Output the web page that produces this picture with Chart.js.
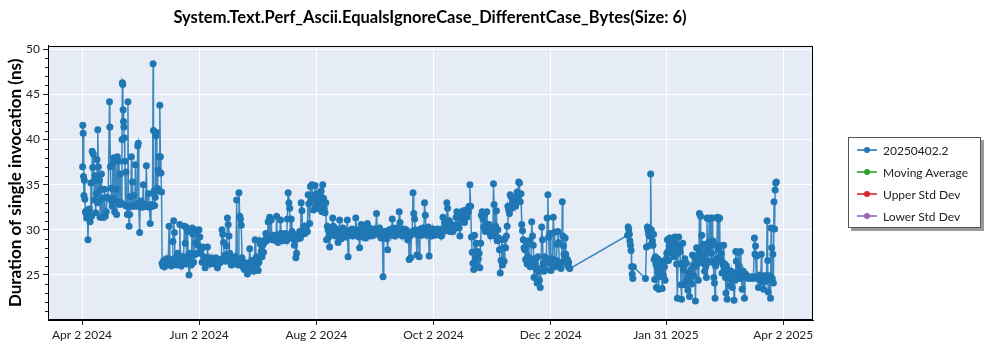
<!DOCTYPE html>
<html>
<head>
<meta charset="utf-8">
<script src="https://cdn.jsdelivr.net/npm/chart.js@4.4.1/dist/chart.umd.min.js"></script>
<style>
    body { margin: 0; background: #fff; font-family: Lato, sans-serif; }
    #wrap { position: relative; width: 1000px; height: 350px; }
    #chart { position: absolute; left: 0; top: 0; }
    #legend {
        position: absolute; left: 848px; top: 137px; width: 133px; height: 91px;
        box-sizing: border-box; border: 1px solid #555; background: #fff;
        box-shadow: 3px 3px 0 #9a9a9a; padding-top: 1px;
    }
    .item { height: 22px; display: flex; align-items: center; font-size: 12px; color: #222; }
    .swatch { position: relative; width: 20px; height: 10px; margin-left: 8px; margin-right: 6px; }
    .swatch .ln { position: absolute; left: 0; right: 0; top: 4px; height: 1.5px; opacity: 0.8; }
    .swatch .dot { position: absolute; left: 7px; top: 2px; width: 6px; height: 6px; border-radius: 50%; }
</style>
</head>
<body>
<div id="wrap">
    <canvas id="chart" width="860" height="350"></canvas>
    <div id="legend"></div>
</div>
<script>
// days since Apr 2 2024
const runDays = [
    // Apr - mid May 2024
    0.3, 0.4, 0.6, 0.8, 1.0, 1.2, 1.5, 1.8, 2.1, 2.4,
    2.8, 3.1, 3.4, 3.8, 4.2, 4.6, 5.0, 5.3, 5.6, 5.9,
    6.2, 6.5, 6.8, 7.1, 7.4, 7.8, 8.1, 8.2, 8.5, 8.8,
    9.1, 9.4, 9.8, 10.1, 10.5, 10.9, 11.3, 11.7, 12.1, 12.6,
    13.1, 13.6,
    14.3, 14.5, 14.8, 15.1, 15.4, 15.7, 16.0, 16.3, 16.6, 17.0,
    17.3, 17.7, 18.0, 18.4, 18.8, 19.2, 19.6, 20.0, 20.4, 20.8,
    21.0, 21.2, 21.4, 21.6, 21.8, 22.0, 22.3, 22.6, 22.9, 23.2,
    23.6, 23.9, 24.2, 24.5, 24.8, 25.1, 25.4, 25.7, 26.0, 26.3,
    26.6, 27.0, 27.4, 27.8, 28.2, 28.6, 29.0, 29.3, 29.6, 30.0,
    30.3, 30.7, 31.1, 31.5, 31.9, 32.3, 32.7, 33.1, 33.5, 33.9,
    34.3, 34.7, 35.1, 35.5, 35.9, 36.3, 36.7, 37.0, 37.2, 37.5,
    37.8, 38.1, 38.4, 38.7, 39.0, 39.3, 39.6, 39.9, 40.2, 40.5,
    40.8, 41.1, 41.4, 41.7,
    // mid May - Jun
    42.1, 42.5, 42.9, 43.3, 43.7, 44.1, 44.5, 44.9, 45.3, 45.7,
    46.1, 46.5, 46.9, 47.3, 47.7, 48.1, 48.5, 48.9, 49.3, 49.7,
    50.1, 50.5, 50.9, 51.3, 51.7, 52.1, 52.5, 52.9, 53.3, 53.7,
    54.1, 54.5, 54.9, 55.3, 55.7, 56.1, 56.5, 56.9, 57.3, 57.7,
    58.1, 58.5, 58.9, 59.3, 59.7, 60.1, 60.5, 60.9, 61.3, 61.7,
    // Jun - Jul
    62.1, 62.5, 62.9, 63.3, 63.7, 64.1, 64.5, 64.9, 65.3, 65.7,
    66.1, 66.5, 66.9, 67.3, 67.7, 68.1, 68.5, 68.9, 69.3, 69.7,
    70.1, 70.5, 70.9, 71.3, 71.7, 72.1, 72.5, 72.9, 73.3, 73.7,
    74.1, 74.5, 74.9, 75.3, 75.7, 76.1, 76.5, 76.9, 77.3, 77.7,
    78.1, 78.5, 78.9, 79.3, 79.7, 80.1, 80.5, 80.9, 81.3, 81.7,
    82.1, 82.5, 82.9, 83.3, 83.7, 84.1, 84.5, 84.9, 85.3, 85.7,
    86.1, 86.5, 86.9, 87.3, 87.7, 88.1, 88.5, 88.9, 89.3, 89.7,
    90.1, 90.5, 90.9, 91.3, 91.7, 92.1, 92.5, 92.9, 93.3, 93.7,
    // Jul - Aug
    94.1, 94.5, 94.9, 95.3, 95.7, 96.1, 96.5, 96.9, 97.3, 97.7,
    98.1, 98.5, 98.9, 99.3, 99.7, 100.1, 100.5, 100.9, 101.3, 101.7,
    102.1, 102.5, 102.9, 103.3, 103.7, 104.1, 104.5, 104.9, 105.3, 105.7,
    106.1, 106.5, 106.9, 107.3, 107.7, 108.1, 108.5, 108.9, 109.3, 109.7,
    110.1, 110.5, 110.9, 111.3, 111.7, 112.1, 112.5, 112.9, 113.3, 113.7,
    114.1, 114.5, 114.9, 115.3, 115.7, 116.1, 116.5, 116.9, 117.3, 117.7,
    118.1, 118.5, 118.9, 119.3, 119.7, 120.1, 120.5, 120.9, 121.3, 121.7,
    122.1, 122.5, 122.9, 123.3, 123.7,
    // Aug - Oct
    124.1, 124.5, 124.9, 125.3, 125.7, 126.1, 126.5, 126.9, 127.3, 127.7,
    128.1, 128.5, 128.9, 129.3, 129.7, 130.1, 130.5, 130.9, 131.3, 131.7,
    132.1, 132.5, 132.9, 133.3, 133.7, 134.1, 134.5, 134.9, 135.3, 135.7,
    136.1, 136.5, 136.9, 137.3, 137.7, 138.1, 138.5, 138.9, 139.3, 139.7,
    140.1, 140.5, 140.9, 141.3, 141.7, 142.1, 142.5, 142.9, 143.3, 143.7,
    144.1, 144.5, 144.9, 145.3, 145.7, 146.1, 146.5, 146.9, 147.3, 147.7,
    148.1, 148.5, 148.9, 149.3, 149.7, 150.1, 150.5, 150.9, 151.3, 151.7,
    152.1, 152.5, 152.9, 153.3, 153.7, 154.1, 154.5, 154.9, 155.3, 155.7,
    156.1, 156.4, 156.7, 157.1, 157.5, 157.9, 158.3, 158.7, 159.1, 159.5,
    159.9, 160.3, 160.7, 161.1, 161.5, 161.9, 162.3, 162.7, 163.1, 163.5,
    163.9, 164.3, 164.7, 165.1, 165.5, 165.9, 166.3, 166.7, 167.1, 167.5,
    167.9, 168.3, 168.7, 169.1, 169.5, 169.9, 170.3, 170.7, 171.1, 171.5,
    171.9, 172.3, 172.7, 173.1, 173.5, 173.9, 174.3, 174.7, 175.1, 175.5,
    175.9, 176.3, 176.7, 177.1, 177.5, 177.9, 178.3, 178.7, 179.1, 179.5,
    179.9, 180.3, 180.7, 181.1, 181.5, 181.9, 182.3, 182.7, 183.1, 183.5,
    183.9, 184.3, 184.7, 185.1, 185.5, 185.9,
    // Oct - Dec
    186.3, 186.7, 187.1, 187.5, 187.9, 188.3, 188.7, 189.1, 189.5, 189.9,
    190.3, 190.7, 191.1, 191.5, 191.9, 192.3, 192.7, 193.1, 193.5, 193.9,
    194.3, 194.7, 195.1, 195.5, 195.9, 196.3, 196.7, 197.1, 197.5, 197.9,
    198.3, 198.7, 199.1, 199.5, 199.9, 200.3, 200.7, 201.1, 201.5, 201.9,
    202.3, 202.7, 203.1, 203.5, 203.9, 204.3, 204.7, 205.1, 205.5, 205.9,
    206.3, 206.7, 207.1, 207.5, 207.9, 208.3, 208.7, 209.1, 209.5, 209.9,
    210.3, 210.7, 211.1, 211.5, 211.9, 212.3, 212.7, 213.1, 213.5, 213.9,
    214.2, 214.5, 214.9, 215.3, 215.7, 216.1, 216.5, 216.9, 217.3, 217.7,
    218.1, 218.5, 218.9, 219.3, 219.7, 220.1, 220.5, 220.9, 221.3, 221.7,
    222.1, 222.5, 222.9, 223.3, 223.7, 224.1, 224.5, 224.9, 225.3, 225.7,
    226.1, 226.5, 226.9, 227.3, 227.7, 228.1, 228.5, 228.9, 229.3, 229.7,
    230.1, 230.5, 230.9, 231.3, 231.7, 232.1, 232.5, 232.9, 233.3, 233.7,
    234.1, 234.5, 234.9, 235.3, 235.7, 236.1, 236.5, 236.9, 237.3, 237.7,
    238.1, 238.5, 238.9, 239.3, 239.7, 240.1, 240.5, 240.9, 241.3, 241.7,
    242.1, 242.5, 242.9, 243.3, 243.7, 244.1, 244.5, 244.9, 245.3, 245.7,
    246.1, 246.5, 246.9, 247.3, 247.7, 248.1, 248.5, 248.9, 249.3, 249.7,
    250.0, 250.3, 250.6, 250.9, 251.2, 251.5, 251.8, 252.1, 252.4, 252.7,
    253.0, 253.3, 253.6, 253.9,
    // Jan 2025
    284.0, 284.3, 284.6, 284.9, 285.2, 285.5, 285.8, 286.1, 286.4, 286.7,
    287.0, 293.3, 293.8, 294.3, 294.6, 294.9, 295.2, 295.5, 295.8, 296.0,
    296.3, 296.6, 296.9, 297.2, 297.5, 297.8, 298.1, 298.4, 298.7, 299.0,
    299.3, 299.6, 299.9, 300.2, 300.5, 300.8, 301.1, 301.4, 301.7, 302.0,
    302.3, 302.6, 302.9, 303.2, 303.5, 303.8, 304.1, 304.4, 304.7, 305.0,
    305.3, 305.6, 305.9, 306.2, 306.5, 306.8, 307.1, 307.4, 307.7, 308.0,
    308.3, 308.6, 308.9, 309.2, 309.5, 309.9,
    // Feb - Apr 2025
    310.3, 310.6, 310.9, 311.2, 311.5, 311.8, 312.1, 312.4, 312.7, 313.0,
    313.4, 313.8, 314.2, 314.6, 315.0, 315.4, 315.8, 316.2, 316.6, 317.0,
    317.4, 317.8, 318.2, 318.6, 319.0, 319.3, 319.6, 319.9, 320.2, 320.5,
    320.8, 321.1, 321.4, 321.7, 322.0, 322.3, 322.6, 322.9, 323.2, 323.5,
    323.8, 324.1, 324.4, 324.7, 325.0, 325.3, 325.6, 325.9, 326.2, 326.5,
    326.8, 327.1, 327.4, 327.7, 328.0, 328.3, 328.6, 328.9, 329.2, 329.5,
    329.8, 330.1, 330.4, 330.7, 331.0, 331.3, 331.6, 331.9, 332.2, 332.5,
    332.8, 333.1, 333.4, 333.7, 334.0, 334.3, 334.6, 334.9, 335.2, 335.5,
    335.8, 336.1, 336.4, 336.7, 337.0, 337.3, 337.6, 337.9, 338.2, 338.5,
    338.8, 339.1, 339.4, 339.7, 340.0, 340.3, 340.6, 340.9, 341.2, 341.5,
    341.8, 342.1, 342.4, 342.7, 343.0, 343.3, 343.6, 343.9, 344.2, 344.5,
    344.8, 345.1, 345.4, 345.7, 346.0, 346.5, 347.0, 347.5, 348.0, 348.5,
    349.0, 349.5, 350.0, 350.3, 350.6, 350.9, 351.2, 351.5, 351.8, 352.1,
    352.4, 352.7, 353.0, 353.3, 353.6, 353.9, 354.2, 354.5, 354.8, 355.1,
    355.4, 355.7, 356.0, 356.3, 356.6, 356.9, 357.2, 357.5, 357.8, 358.1,
    358.4, 358.7, 359.0, 359.3, 359.6, 359.9, 360.2, 360.5, 360.8, 361.1,
    361.4
];

// duration of single invocation (ns)
const durations = [
    37.0, 41.6, 40.7, 35.9, 33.8, 35.5, 33.4, 32.0, 31.8, 31.3,
    32.2, 28.9, 31.6, 32.3, 30.9, 35.2, 31.5, 38.7, 36.9, 38.4,
    35.4, 33.3, 36.0, 31.9, 34.0, 37.8, 33.0, 41.1, 37.0, 33.2,
    35.5, 31.4, 34.5, 36.2, 31.4, 33.5, 31.4, 34.5, 31.5, 32.0,
    33.6, 33.5,
    44.2, 41.4, 37.0, 34.6, 33.2, 32.6, 37.4, 33.5, 38.0, 32.0,
    37.9, 34.5, 31.7, 38.1, 33.1, 37.6, 32.8, 36.2, 33.0, 40.0,
    46.3, 46.1, 43.3, 42.0, 41.4, 40.2, 37.6, 32.7, 36.4, 32.6,
    31.7, 44.2, 32.6, 30.4, 31.7, 33.7, 32.6, 38.1, 32.6, 35.3,
    32.6, 33.8, 32.7, 37.2, 32.6, 32.9, 39.3, 39.6, 32.6, 29.7,
    32.8, 33.2, 32.6, 32.5, 35.0, 32.6, 32.8, 32.6, 37.1, 32.7,
    32.6, 34.0, 32.5, 30.7, 32.6, 32.8, 32.6, 48.4, 41.0, 34.3,
    32.7, 33.6, 40.4, 40.8, 34.3, 34.6, 36.6, 38.1, 36.3, 43.8,
    38.1, 36.3, 34.2, 26.3,

    26.0, 26.6, 25.9, 26.4, 26.1, 26.8, 26.2, 26.5, 30.4, 26.2,
    26.7, 26.0, 26.3, 28.7, 31.0, 29.7, 26.3, 26.9, 26.1, 27.4,
    26.4, 26.2, 30.6, 26.5, 26.0, 27.0, 26.3, 26.8, 30.4, 28.5,
    30.3, 26.2, 29.8, 27.2, 25.0, 26.6, 27.4, 26.1, 30.2, 29.5,
    26.4, 27.2, 30.0, 28.6, 29.8, 27.4, 28.3, 30.0, 29.2, 27.4,

    27.8, 26.4, 28.1, 27.0, 26.6, 25.8, 26.9, 26.4, 28.1, 26.7,
    26.3, 26.9, 26.2, 26.6, 26.3, 26.8, 26.4, 26.6, 26.2, 26.9,
    26.4, 25.8, 26.5, 26.3, 26.7, 26.4, 26.6, 30.0, 29.5, 28.6,
    26.9, 27.2, 26.5, 28.2, 31.3, 30.6, 29.3, 27.4, 26.8, 26.1,
    26.5, 26.2, 26.7, 26.4, 27.0, 26.3, 33.3, 26.7, 26.1, 34.1,
    31.5, 31.2, 30.5, 26.9, 25.9, 26.4, 25.6, 26.1, 25.9, 26.3,
    25.1, 25.8, 26.2, 27.9, 26.4, 26.0, 26.6, 25.8, 25.4, 26.2,
    28.9, 26.7, 27.0, 26.2, 25.5, 26.4, 28.8, 28.4, 27.6, 27.0,

    28.3, 27.5, 28.6, 28.9, 29.6, 28.8, 29.3, 30.9, 29.2, 31.4,
    29.0, 31.1, 29.1, 28.9, 29.4, 29.0, 29.3, 28.8, 31.5, 29.2,
    28.6, 29.4, 29.1, 31.1, 29.6, 29.2, 28.8, 29.4, 29.1, 29.6,
    29.2, 28.8, 31.2, 34.1, 33.0, 32.4, 29.5, 31.2, 29.8, 29.0,
    29.5, 28.3, 29.0, 26.9, 27.4, 29.3, 29.0, 29.4, 29.8, 29.1,
    33.0, 32.1, 29.5, 29.9, 30.4, 29.6, 30.0, 30.4, 29.8, 33.9,
    32.9, 30.7, 34.8, 33.2, 35.0, 33.8, 32.2, 33.5, 34.9, 32.6,
    33.4, 34.0, 32.8, 33.6, 32.3,

    33.2, 34.3, 32.0, 35.0, 33.5, 32.4, 31.9, 33.0, 28.9, 30.4,
    30.0, 29.2, 28.1, 29.5, 30.2, 29.6, 31.3, 30.4, 29.4, 30.0,
    29.3, 30.1, 29.8, 28.6, 29.5, 31.1, 29.8, 29.0, 29.6, 30.2,
    29.4, 29.9, 29.5, 29.2, 29.8, 31.1, 27.0, 29.6, 29.9, 29.4,
    29.8, 30.1, 29.3, 29.7, 30.0, 29.4, 31.3, 30.0, 29.4, 29.9,
    29.2, 28.0, 29.6, 30.6, 29.8, 29.2, 29.9, 30.3, 29.5, 29.1,
    29.8, 30.7, 29.4, 29.9, 30.2, 29.6, 29.3, 30.0, 29.7, 29.4,
    30.1, 29.5, 29.8, 31.8, 30.0, 29.6, 29.8, 30.2, 29.3, 29.1,
    29.7, 29.1, 24.8, 29.4, 29.8, 29.2, 29.6, 29.0, 27.8, 29.5,
    30.0, 29.5, 29.9, 29.4, 31.2, 30.2, 29.6, 30.0, 29.3, 29.8,
    30.2, 29.6, 29.9, 32.0, 30.8, 29.5, 29.9, 29.3, 30.1, 29.6,
    29.8, 29.4, 30.0, 29.4, 28.9, 29.7, 26.7, 29.3, 26.9, 29.5,
    29.8, 34.1, 31.8, 31.2, 30.0, 29.6, 27.2, 29.4, 29.9, 27.0,
    29.6, 30.1, 29.4, 29.8, 30.2, 29.5, 33.0, 31.6, 30.0, 29.4,
    29.8, 30.3, 27.1, 29.6, 30.0, 29.3, 29.6, 30.1, 29.7, 29.4,
    30.0, 29.6, 29.9, 30.1, 29.5, 29.8,

    29.4, 30.0, 29.3, 29.8, 31.4, 30.2, 30.8, 29.9, 30.5, 33.0,
    32.4, 30.5, 31.0, 29.8, 30.6, 30.1, 30.6, 29.8, 30.1, 30.4,
    30.2, 31.4, 32.0, 31.4, 30.6, 30.2, 29.3, 31.6, 32.0, 31.2,
    31.8, 32.1, 30.8, 31.6, 32.2, 31.4, 31.9, 32.0, 32.6, 35.0,
    32.6, 29.2, 27.5, 26.3, 25.6, 29.4, 26.8, 28.5, 26.0, 27.6,
    26.8, 27.4, 25.8, 28.5, 31.6, 32.0, 31.2, 30.3, 31.6, 29.8,
    30.6, 32.0, 30.3, 29.8, 30.6, 30.3, 29.3, 30.0, 29.6, 30.2,
    35.1, 32.8, 29.3, 30.4, 32.1, 28.8, 30.0, 29.1, 27.8, 25.2,
    26.6, 28.9, 26.1, 28.0, 26.5, 29.0, 28.0, 29.3, 30.4, 32.6,
    32.2, 31.8, 33.9, 33.7, 32.4, 33.2, 32.8, 33.5, 33.2, 32.6,
    33.6, 34.2, 33.8, 35.3, 35.2, 33.1, 34.0, 30.6, 29.9, 28.9,
    28.0, 27.8, 26.7, 28.2, 26.2, 27.0, 28.8, 26.5, 25.9, 26.8,
    30.9, 29.3, 28.3, 24.7, 26.1, 26.8, 25.6, 24.1, 27.0, 25.4,
    24.4, 23.6, 25.7, 30.3, 28.9, 26.3, 25.4, 27.0, 25.6, 26.8,
    31.3, 33.9, 29.2, 26.3, 29.6, 25.5, 26.8, 26.1, 31.4, 29.7,
    26.2, 25.9, 26.6, 28.4, 29.8, 28.6, 26.1, 26.3, 25.7, 26.4,
    33.1, 29.3, 28.2, 27.3, 26.6, 29.1, 27.3, 26.6, 26.2, 26.7,
    26.0, 26.4, 25.8, 25.7,

    29.4, 30.3, 30.0, 29.5, 28.8, 28.3, 27.7, 25.9, 25.1, 24.6,
    25.9, 24.6, 28.1, 30.3, 30.0, 29.6, 29.3, 30.1, 28.3, 36.2,
    30.0, 29.6, 28.8, 28.3, 29.5, 26.7, 24.5, 27.0, 26.2, 23.6,
    25.9, 26.8, 25.4, 23.4, 26.6, 24.8, 26.5, 25.2, 26.3, 23.5,
    26.0, 24.9, 26.4, 25.9, 24.4, 26.6, 26.8, 27.4, 28.9, 27.6,
    26.6, 28.2, 29.1, 28.4, 27.4, 28.0, 28.6, 28.9, 27.8, 27.0,
    28.2, 29.2, 28.5, 27.6, 26.2, 22.4,

    27.4, 29.2, 28.2, 27.6, 26.2, 23.9, 22.3, 26.3, 28.5, 25.6,
    23.9, 26.8, 24.3, 26.3, 24.5, 23.3, 25.2, 22.6, 24.5, 25.6,
    24.0, 27.2, 26.1, 24.9, 26.9, 22.1, 26.0, 28.0, 26.9, 26.3,
    24.4, 27.4, 31.8, 27.9, 31.5, 26.6, 29.4, 27.0, 26.3, 28.4,
    27.2, 25.4, 26.6, 25.9, 24.7, 31.3, 27.8, 26.5, 28.6, 31.2,
    28.2, 31.3, 26.4, 27.4, 31.3, 28.8, 26.5, 24.7, 24.1, 22.4,
    26.0, 28.3, 26.8, 31.4, 27.8, 31.2, 26.5, 31.3, 27.0, 28.2,
    27.4, 25.2, 26.4, 26.1, 28.3, 25.6, 26.2, 24.7, 23.0, 26.0,
    22.3, 24.9, 25.5, 24.6, 25.2, 23.8, 24.9, 25.4, 24.6, 23.6,
    25.1, 24.5, 22.2, 25.0, 24.4, 27.6, 26.5, 25.3, 24.8, 27.5,
    25.3, 26.0, 24.6, 27.6, 25.0, 24.8, 23.4, 24.9, 25.4, 24.8,
    22.4, 24.8, 25.1, 24.7, 24.8, 24.7, 24.6, 24.7, 24.8, 24.7,
    24.6, 24.8, 29.1, 27.3, 28.2, 24.7, 27.1, 24.6, 24.8, 23.6,
    24.5, 24.7, 25.0, 24.4, 27.3, 24.7, 24.2, 24.9, 23.4, 24.8,
    24.2, 24.6, 24.9, 24.5, 31.0, 26.6, 23.1, 24.6, 24.9, 24.5,
    22.4, 30.2, 28.0, 24.6, 27.3, 24.1, 33.1, 30.1, 34.4, 35.2,
    35.3
];

const tickDays = [0, 61, 122, 183, 244, 304, 365];
const tickLabels = ['Apr 2 2024', 'Jun 2 2024', 'Aug 2 2024', 'Oct 2 2024', 'Dec 2 2024', 'Jan 31 2025', 'Apr 2 2025'];
const durationTicks = [25, 30, 35, 40, 45, 50];

const seriesNames = ['20250402.2', 'Moving Average', 'Upper Std Dev', 'Lower Std Dev'];
const seriesColors = ['#1f77b4', '#2ca02c', '#d62728', '#9467bd'];

const chartTitle = 'System.Text.Perf_Ascii.EqualsIgnoreCase_DifferentCase_Bytes(Size: 6)';
const yTitle = 'Duration of single invocation (ns)';

const tickFont = { family: 'Lato', size: 12 };

// plot background, frame and minor y ticks
const framePlugin = {
    id: 'frame',
    beforeDraw(chart)
    {
        const { ctx, chartArea: a } = chart;
        ctx.save();
        ctx.fillStyle = '#e5ecf6';
        ctx.fillRect(a.left, a.top, a.right - a.left, a.bottom - a.top);
        ctx.restore();
    },
    afterDraw(chart)
    {
        const { ctx, chartArea: a } = chart;
        const y = chart.scales.y;
        ctx.save();
        ctx.strokeStyle = '#000';
        ctx.lineWidth = 1;
        ctx.strokeRect(Math.round(a.left) + 0.5, Math.round(a.top) + 0.5,
            Math.round(a.right - a.left) - 1, Math.round(a.bottom - a.top) - 1);
        ctx.strokeStyle = '#222';
        ctx.beginPath();
        for (let v = Math.ceil(y.min); v <= y.max; v++)
        {
            if (v % 5 === 0) continue;
            const py = Math.round(y.getPixelForValue(v)) + 0.5;
            ctx.moveTo(a.left - 3, py);
            ctx.lineTo(a.left, py);
        }
        ctx.stroke();
        ctx.restore();
    }
};

const datasets = seriesNames.map((name, i) => ({
    label: name,
    data: [],
    borderColor: seriesColors[i],
    backgroundColor: seriesColors[i],
    pointBackgroundColor: seriesColors[i],
    pointBorderWidth: 0,
    pointRadius: 3.5,
    borderWidth: 1.5,
    tension: 0
}));
datasets[0].data = runDays.map((d, i) => ({ x: d, y: durations[i] }));
datasets[0].borderColor = 'rgba(31, 119, 180, 0.85)';

const chart = new Chart(document.getElementById('chart'), {
    type: 'line',
    data: { datasets: datasets },
    options: {
        responsive: false,
        animation: false,
        layout: { padding: 0 },
        plugins: {
            legend: { display: false },
            tooltip: { enabled: false },
            title: {
                display: true,
                text: chartTitle,
                color: '#000',
                font: { family: 'Lato', size: 16.5, weight: 'bold' },
                padding: { top: 8, bottom: 18 }
            }
        },
        scales: {
            x: {
                type: 'linear',
                min: -17.7,
                max: 380.5,
                afterBuildTicks: s => { s.ticks = tickDays.map(v => ({ value: v })); },
                afterFit: s => { s.height = 30; },
                ticks: {
                    callback: (v, i) => tickLabels[i],
                    font: tickFont,
                    color: '#222',
                    padding: 3,
                    maxRotation: 0,
                    autoSkip: false
                },
                grid: { color: '#fff', lineWidth: 1, tickColor: '#222', tickLength: 5 },
                border: { display: true, color: '#000' }
            },
            y: {
                min: 20,
                max: 50.4,
                afterBuildTicks: s => { s.ticks = durationTicks.map(v => ({ value: v })); },
                afterFit: s => { s.width = 48; },
                ticks: { font: tickFont, color: '#222', padding: 3 },
                grid: { color: '#fff', lineWidth: 1, tickColor: '#222', tickLength: 5 },
                border: { display: true, color: '#000' },
                title: {
                    display: true,
                    text: yTitle,
                    color: '#000',
                    font: { family: 'Lato', size: 17, weight: 'bold' },
                    padding: { top: 5, bottom: 0 }
                }
            },
            // empty right-hand margin so the title centres on the whole canvas
            gap: {
                position: 'right',
                min: 20,
                max: 50.4,
                afterFit: s => { s.width = 47; },
                ticks: { display: false },
                grid: { display: false, drawTicks: false },
                border: { display: false }
            }
        }
    },
    plugins: [framePlugin]
});

// legend box on the right
const legend = document.getElementById('legend');
chart.data.datasets.forEach((ds, i) =>
{
    const item = document.createElement('div');
    item.className = 'item';
    item.innerHTML = `<span class="swatch"><span class="ln" style="background:${seriesColors[i]}"></span>` +
        `<span class="dot" style="background:${seriesColors[i]}"></span></span>${ds.label}`;
    legend.appendChild(item);
});
</script>
</body>
</html>
